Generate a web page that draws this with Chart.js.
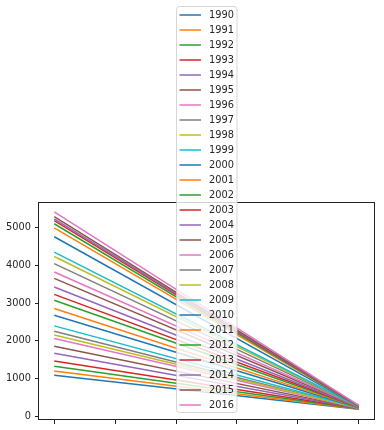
<!DOCTYPE html>
<html>
<head>
<meta charset="utf-8">
<script src="https://cdn.jsdelivr.net/npm/chart.js@4"></script>
<style>
  html, body { margin: 0; padding: 0; background: #fff; }
  canvas { display: block; }
</style>
</head>
<body>
<canvas id="chart" width="384" height="430"></canvas>
<script>
// --- Data ---
const years = ['1990', '1991', '1992', '1993', '1994', '1995', '1996', '1997', '1998', '1999',
  '2000', '2001', '2002', '2003', '2004', '2005', '2006', '2007', '2008', '2009',
  '2010', '2011', '2012', '2013', '2014', '2015', '2016'];
const xPositions = [0, 1];
const startValues = [1090, 1205, 1330, 1465, 1675, 1860, 2065, 2255, 2160, 2400,
  2680, 2860, 3080, 3235, 3430, 3660, 3830, 4050, 4240, 4355,
  4765, 5000, 5110, 5195, 5240, 5300, 5425];
const endValues = [190, 195, 200, 205, 205, 210, 215, 215, 220, 225,
  225, 230, 235, 240, 240, 245, 250, 255, 255, 260,
  265, 270, 270, 275, 280, 285, 290];
const xTicks = [0, 0.2, 0.4, 0.6, 0.8, 1.0];
const yTicks = [0, 1000, 2000, 3000, 4000, 5000];

const palette = ['#1f77b4', '#ff7f0e', '#2ca02c', '#d62728', '#9467bd',
  '#8c564b', '#e377c2', '#7f7f7f', '#bcbd22', '#17becf'];

const FONT = '"DejaVu Sans", sans-serif';
const FONT_SIZE = 9.8;

// matplotlib-like 5% margins
const allY = startValues.concat(endValues);
const yMin = Math.min(...allY), yMax = Math.max(...allY);
const yPad = (yMax - yMin) * 0.05;
const xPad = (xPositions[1] - xPositions[0]) * 0.05;

const datasets = years.map((year, i) => ({
  label: year,
  data: xPositions.map((x, j) => ({ x: x, y: j === 0 ? startValues[i] : endValues[i] })),
  borderColor: palette[i % palette.length],
  backgroundColor: palette[i % palette.length],
  borderWidth: 1.5,
  pointRadius: 0,
  fill: false,
  tension: 0,
  order: years.length - i
}));

// --- Frame + overlapping legend ---
const framePlugin = {
  id: 'frame',
  afterDraw(chart) {
    const { ctx, chartArea: a } = chart;
    ctx.save();
    ctx.strokeStyle = '#222';
    ctx.lineWidth = 1;
    ctx.strokeRect(Math.round(a.left) - 0.5, Math.round(a.top) + 0.5,
      Math.round(a.right - a.left) + 1, Math.round(a.bottom - a.top));
    ctx.restore();

    // legend box
    const bx = 176.5, by = 6.5, bw = 60.5, rowH = 15;
    const bh = rowH * years.length + 1;
    ctx.save();
    ctx.beginPath();
    ctx.roundRect(bx, by, bw, bh, 3);
    ctx.fillStyle = 'rgba(255,255,255,0.8)';
    ctx.fill();
    ctx.strokeStyle = 'rgba(204,204,204,0.8)';
    ctx.lineWidth = 1;
    ctx.stroke();
    ctx.font = FONT_SIZE + 'px ' + FONT;
    ctx.textBaseline = 'middle';
    ctx.textAlign = 'left';
    chart.data.datasets.forEach((ds, i) => {
      const cy = 15 + i * rowH;
      ctx.strokeStyle = ds.borderColor;
      ctx.lineWidth = 1.5;
      ctx.beginPath();
      ctx.moveTo(179.5, cy);
      ctx.lineTo(201, cy);
      ctx.stroke();
      ctx.fillStyle = '#262626';
      ctx.fillText(ds.label, 209, cy + 0.5);
    });
    ctx.restore();
  }
};

const ctx = document.getElementById('chart').getContext('2d');
new Chart(ctx, {
  type: 'line',
  data: { datasets: datasets },
  options: {
    responsive: false,
    animation: false,
    layout: { padding: { top: 202, right: 10, left: 0, bottom: 0 } },
    plugins: {
      legend: { display: false },
      tooltip: { enabled: false }
    },
    scales: {
      x: {
        type: 'linear',
        min: xPositions[0] - xPad,
        max: xPositions[1] + xPad,
        afterFit: (scale) => { scale.height = 11; },
        afterBuildTicks: (scale) => { scale.ticks = xTicks.map(v => ({ value: v })); },
        ticks: { callback: () => '', padding: 0 },
        grid: { drawOnChartArea: false, drawTicks: true, tickLength: 5, color: '#222' },
        border: { display: false }
      },
      y: {
        min: yMin - yPad,
        max: yMax + yPad,
        afterFit: (scale) => { scale.width = 39; },
        afterBuildTicks: (scale) => { scale.ticks = yTicks.map(v => ({ value: v })); },
        ticks: {
          color: '#262626',
          padding: 4,
          font: { family: FONT, size: FONT_SIZE },
          callback: (v) => String(v)
        },
        grid: { drawOnChartArea: false, drawTicks: true, tickLength: 4, color: '#222' },
        border: { display: false }
      }
    }
  },
  plugins: [framePlugin]
});
</script>
</body>
</html>
